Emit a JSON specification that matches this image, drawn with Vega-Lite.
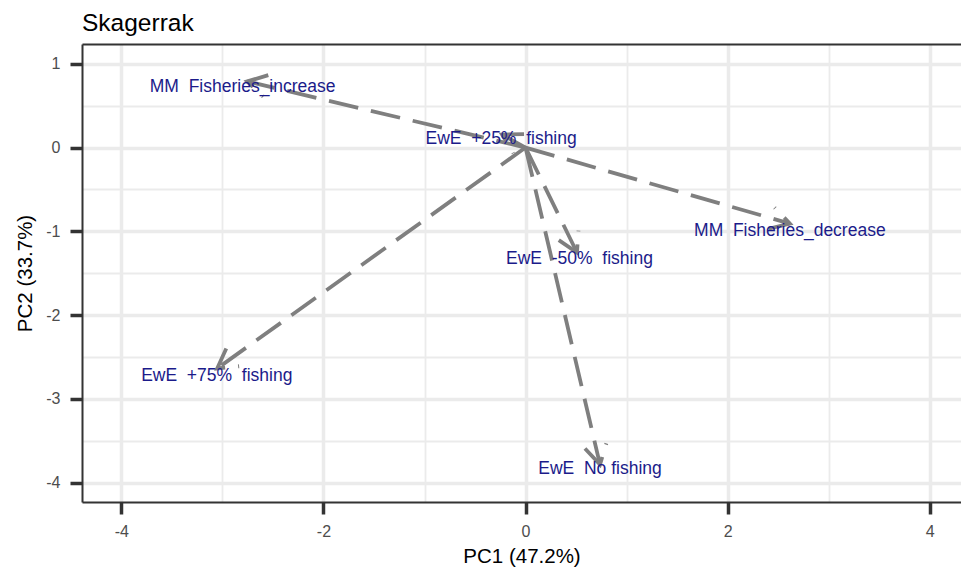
{
  "$schema": "https://vega.github.io/schema/vega-lite/v6.json",
  "width": 879,
  "height": 458,
  "autosize": {"type": "none"},
  "padding": {"left": 82, "top": 44, "right": 0, "bottom": 71},
  "title": {"text": "Skagerrak", "anchor": "start", "frame": "group", "fontSize": 24.5, "fontWeight": "normal", "color": "#000000", "font": "Liberation Sans", "baseline": "alphabetic", "offset": -11},
  "datasets": {
    "arrows": [
      {"name": "MM Fisheries_increase", "x0": 0, "y0": 0, "x": -2.755, "y": 0.789},
      {"name": "EwE +25% fishing", "x0": 0, "y0": 0, "x": -0.232, "y": 0.155},
      {"name": "MM Fisheries_decrease", "x0": 0, "y0": 0, "x": 2.616, "y": -0.907},
      {"name": "EwE -50% fishing", "x0": 0, "y0": 0, "x": 0.509, "y": -1.252},
      {"name": "EwE +75% fishing", "x0": 0, "y0": 0, "x": -3.052, "y": -2.636},
      {"name": "EwE No fishing", "x0": 0, "y0": 0, "x": 0.737, "y": -3.784}
    ],
    "heads": [
      {"name": "MM Fisheries_increase", "ord": 1, "x": -2.546, "y": 0.864},
      {"name": "MM Fisheries_increase", "ord": 2, "x": -2.755, "y": 0.789},
      {"name": "MM Fisheries_increase", "ord": 3, "x": -2.596, "y": 0.608},
      {"name": "EwE +25% fishing", "ord": 1, "x": -0.015, "y": 0.161},
      {"name": "EwE +25% fishing", "ord": 2, "x": -0.232, "y": 0.155},
      {"name": "EwE +25% fishing", "ord": 3, "x": -0.120, "y": -0.069},
      {"name": "MM Fisheries_decrease", "ord": 1, "x": 2.406, "y": -0.969},
      {"name": "MM Fisheries_decrease", "ord": 2, "x": 2.616, "y": -0.907},
      {"name": "MM Fisheries_decrease", "ord": 3, "x": 2.465, "y": -0.717},
      {"name": "EwE -50% fishing", "ord": 1, "x": 0.329, "y": -1.105},
      {"name": "EwE -50% fishing", "ord": 2, "x": 0.509, "y": -1.252},
      {"name": "EwE -50% fishing", "ord": 3, "x": 0.524, "y": -0.990},
      {"name": "EwE +75% fishing", "ord": 1, "x": -2.962, "y": -2.397},
      {"name": "EwE +75% fishing", "ord": 2, "x": -3.052, "y": -2.636},
      {"name": "EwE +75% fishing", "ord": 3, "x": -2.835, "y": -2.610},
      {"name": "EwE No fishing", "ord": 1, "x": 0.588, "y": -3.591},
      {"name": "EwE No fishing", "ord": 2, "x": 0.737, "y": -3.784},
      {"name": "EwE No fishing", "ord": 3, "x": 0.800, "y": -3.530}
    ],
    "labels": [
      {"label": "MM\u00a0 Fisheries_increase", "x": -2.80, "y": 0.72},
      {"label": "EwE\u00a0 +25%\u00a0 fishing", "x": -0.242, "y": 0.107},
      {"label": "MM\u00a0 Fisheries_decrease", "x": 2.616, "y": -0.99},
      {"label": "EwE\u00a0 -50%\u00a0 fishing", "x": 0.534, "y": -1.324},
      {"label": "EwE\u00a0 +75%\u00a0 fishing", "x": -3.056, "y": -2.731},
      {"label": "EwE\u00a0 No fishing", "x": 0.737, "y": -3.842}
    ]
  },
  "resolve": {"axis": {"x": "independent", "y": "independent"}},
  "layer": [
    {
      "data": {"name": "labels"},
      "mark": {"type": "text", "opacity": 0},
      "encoding": {
        "x": {"field": "x", "type": "quantitative", "scale": {"domain": [-4.39, 4.31], "nice": false, "zero": false},
          "axis": {"orient": "top", "values": [-3, -1, 1, 3], "grid": true, "gridWidth": 1.8, "gridColor": "#ebebeb", "domain": true, "domainColor": "#333333", "domainWidth": 2, "ticks": false, "labels": false, "title": null}},
        "y": {"field": "y", "type": "quantitative", "scale": {"domain": [-4.23, 1.236], "nice": false, "zero": false},
          "axis": {"orient": "right", "values": [0.5, -0.5, -1.5, -2.5, -3.5], "grid": true, "gridWidth": 1.8, "gridColor": "#ebebeb", "domain": false, "ticks": false, "labels": false, "title": null}},
        "text": {"field": "label", "type": "nominal"}
      }
    },
    {
      "data": {"name": "labels"},
      "mark": {"type": "text", "opacity": 0},
      "encoding": {
        "x": {"field": "x", "type": "quantitative",
          "axis": {"orient": "bottom", "values": [-4, -2, 0, 2, 4], "labelExpr": "'' + datum.value", "grid": true, "gridWidth": 3.5, "gridColor": "#ebebeb", "domain": true, "domainColor": "#333333", "domainWidth": 2, "ticks": true, "tickColor": "#333333", "tickWidth": 3.5, "tickSize": 12, "labelFont": "Liberation Sans", "labelFontSize": 16, "labelColor": "#4d4d4d", "labelPadding": 9, "title": "PC1 (47.2%)", "titleFont": "Liberation Sans", "titleFontSize": 20.5, "titleFontWeight": "normal", "titleColor": "#000000", "titlePadding": 7}},
        "y": {"field": "y", "type": "quantitative",
          "axis": {"orient": "left", "values": [1, 0, -1, -2, -3, -4], "labelExpr": "'' + datum.value", "grid": true, "gridWidth": 3.5, "gridColor": "#ebebeb", "domain": true, "domainColor": "#333333", "domainWidth": 2, "ticks": true, "tickColor": "#333333", "tickWidth": 3.5, "tickSize": 12, "labelFont": "Liberation Sans", "labelFontSize": 16, "labelColor": "#4d4d4d", "labelPadding": 10, "title": "PC2 (33.7%)", "titleFont": "Liberation Sans", "titleFontSize": 20.5, "titleFontWeight": "normal", "titleColor": "#000000", "titlePadding": 10}},
        "text": {"field": "label", "type": "nominal"}
      }
    },
    {
      "data": {"name": "arrows"},
      "mark": {"type": "rule", "color": "#7f7f7f", "strokeWidth": 3.8, "strokeDash": [30, 13], "strokeCap": "butt"},
      "encoding": {
        "x": {"field": "x0", "type": "quantitative", "axis": null},
        "y": {"field": "y0", "type": "quantitative", "axis": null},
        "x2": {"field": "x"},
        "y2": {"field": "y"}
      }
    },
    {
      "data": {"name": "heads"},
      "mark": {"type": "line", "color": "#7f7f7f", "strokeWidth": 3.8, "strokeDash": [30, 13], "strokeCap": "butt", "strokeJoin": "miter"},
      "encoding": {
        "x": {"field": "x", "type": "quantitative", "axis": null},
        "y": {"field": "y", "type": "quantitative", "axis": null},
        "detail": {"field": "name", "type": "nominal"},
        "order": {"field": "ord", "type": "quantitative"}
      }
    },
    {
      "data": {"name": "labels"},
      "mark": {"type": "text", "color": "#1b1b8a", "font": "Liberation Sans", "fontSize": 17.5, "align": "center", "baseline": "middle"},
      "encoding": {
        "x": {"field": "x", "type": "quantitative", "axis": null},
        "y": {"field": "y", "type": "quantitative", "axis": null},
        "text": {"field": "label", "type": "nominal"}
      }
    }
  ],
  "config": {
    "view": {"stroke": null},
    "font": "Liberation Sans"
  }
}
